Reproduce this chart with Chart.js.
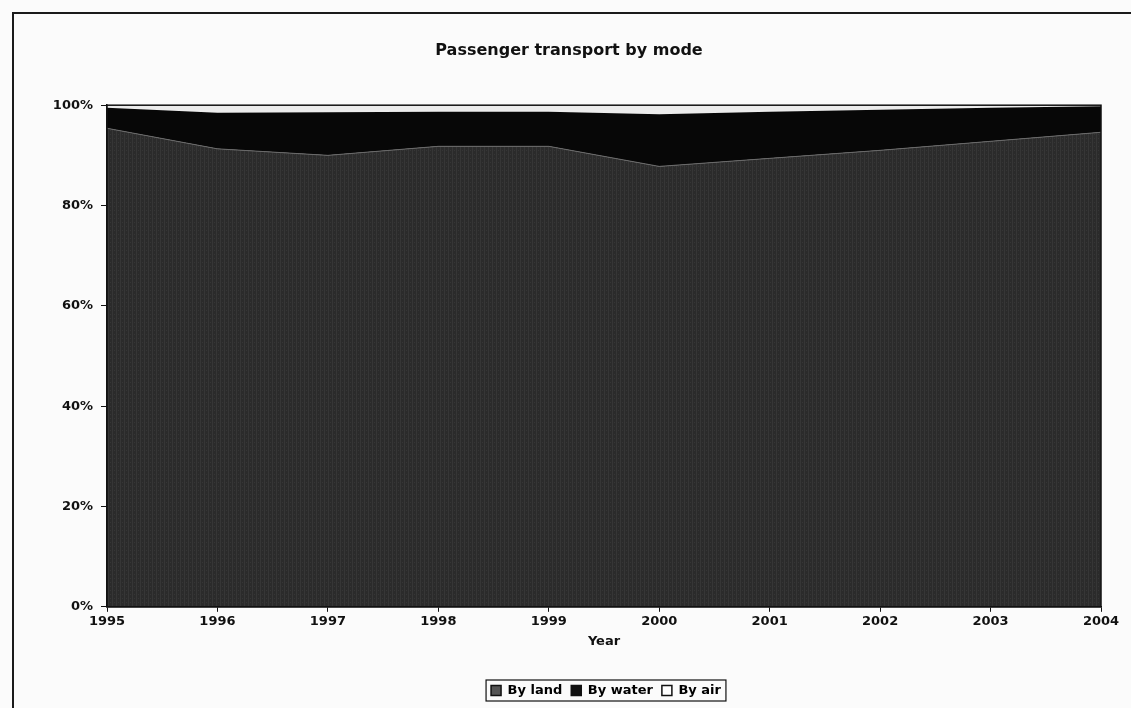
<!DOCTYPE html>
<html>
<head>
<meta charset="utf-8">
<script src="https://cdn.jsdelivr.net/npm/chart.js@4/dist/chart.umd.min.js"></script>
<style>
  html, body { margin: 0; padding: 0; background: #fbfbfb; overflow: hidden; }
  #frame { position: absolute; left: 12px; top: 12px; width: 2000px; height: 2000px; border: 2px solid #1a1a1a; }
  #wrap { position: absolute; left: 0; top: 0; width: 1131px; height: 708px; }
</style>
</head>
<body>
<div id="frame"></div>
<div id="wrap"><canvas id="chart"></canvas></div>
<script>
// DATA (percent of passenger transport)
const years = ['1995', '1996', '1997', '1998', '1999', '2000', '2001', '2002', '2003', '2004']
const byLand = [95.4, 91.3, 90.0, 91.8, 91.8, 87.8, 89.4, 91.0, 92.8, 94.6]
const byWater = [4.1, 7.2, 8.6, 6.9, 6.9, 10.4, 9.3, 8.1, 6.7, 5.2]
const byAir = [0.5, 1.5, 1.4, 1.3, 1.3, 1.8, 1.3, 0.9, 0.5, 0.2]
const yTicks = [0, 20, 40, 60, 80, 100]

const FONT = '"DejaVu Sans", Arial, sans-serif'

// small fine-grain texture for the land area (like the printed fill)
const landPattern = (() => {
    const c = document.createElement('canvas')
    c.width = 4; c.height = 4
    const g = c.getContext('2d')
    g.fillStyle = '#2b2b2b'
    g.fillRect(0, 0, 4, 4)
    g.fillStyle = '#363636'
    g.fillRect(0, 0, 1, 4)
    g.fillRect(2, 2, 1, 1)
    return g.createPattern(c, 'repeat')
})()

// legend sits under the plot area, title over the whole frame
const LEGEND_SHIFT = 37

const boxes = {
    id: 'boxes',
    afterLayout(chart) {
        const l = chart.legend
        l.left += LEGEND_SHIFT
        l.right += LEGEND_SHIFT
    },
    afterDraw(chart) {
        const ctx = chart.ctx
        const a = chart.chartArea
        ctx.save()
        ctx.strokeStyle = '#111'
        ctx.lineWidth = 1.5
        ctx.strokeRect(a.left, a.top, a.right - a.left, a.bottom - a.top)
        const hb = chart.legend.legendHitBoxes
        if (hb && hb.length) {
            const first = hb[0], last = hb[hb.length - 1]
            const x0 = first.left - 5, x1 = last.left + last.width + 5
            ctx.lineWidth = 1.2
            ctx.strokeRect(x0, first.top - 4, x1 - x0, first.height + 8)
        }
        ctx.restore()
    }
}

const ds = (label, data, bg, fill, border, legendBox) => ({
    label, data, fill, legendBox,
    backgroundColor: bg,
    borderColor: border,
    borderWidth: border ? 1 : 0,
    pointRadius: 0,
    tension: 0,
})

new Chart(document.getElementById('chart'), {
    type: 'line',
    data: {
        labels: years,
        datasets: [
            ds('By land', byLand, landPattern, 'origin', '#6a6a6a', '#555'),
            ds('By water', byWater, '#070707', '-1', null, '#111'),
            ds('By air', byAir, '#ececec', '-1', null, '#fff'),
        ]
    },
    plugins: [boxes],
    options: {
        responsive: true,
        maintainAspectRatio: false,
        animation: false,
        layout: { padding: { top: 14, right: 30, bottom: 1, left: 37 } },
        plugins: {
            title: {
                display: true,
                text: 'Passenger transport by mode',
                color: '#111',
                font: { family: FONT, size: 16, weight: 'bold' },
                padding: { top: 27, bottom: 45 }
            },
            legend: {
                position: 'bottom',
                labels: {
                    color: '#111',
                    font: { family: FONT, size: 13, weight: 'bold' },
                    boxWidth: 10, boxHeight: 10,
                    padding: 9,
                    generateLabels: (chart) => chart.data.datasets.map((d, i) => ({
                        text: d.label,
                        fillStyle: d.legendBox,
                        strokeStyle: '#111',
                        lineWidth: 1.5,
                        datasetIndex: i,
                    }))
                }
            },
            tooltip: { enabled: false }
        },
        scales: {
            x: {
                offset: false,
                grid: { display: true, drawOnChartArea: false, tickLength: 5, color: '#111' },
                border: { color: '#111', width: 1.5 },
                ticks: { color: '#111', font: { family: FONT, size: 13, weight: 'bold' }, maxRotation: 0, padding: 2 },
                title: { display: true, text: 'Year', color: '#111', font: { family: FONT, size: 13, weight: 'bold' }, padding: { top: 2, bottom: 26 } }
            },
            y: {
                stacked: true,
                min: 0, max: 100,
                afterFit: (s) => { s.width = 107 - 37 },
                afterBuildTicks: (s) => { s.ticks = yTicks.map(v => ({ value: v })) },
                grid: { display: true, drawOnChartArea: false, tickLength: 6, color: '#111' },
                border: { color: '#111', width: 1.5 },
                ticks: { color: '#111', font: { family: FONT, size: 13, weight: 'bold' }, padding: 8, callback: (v) => v + '%' }
            }
        }
    }
})
</script>
</body>
</html>
